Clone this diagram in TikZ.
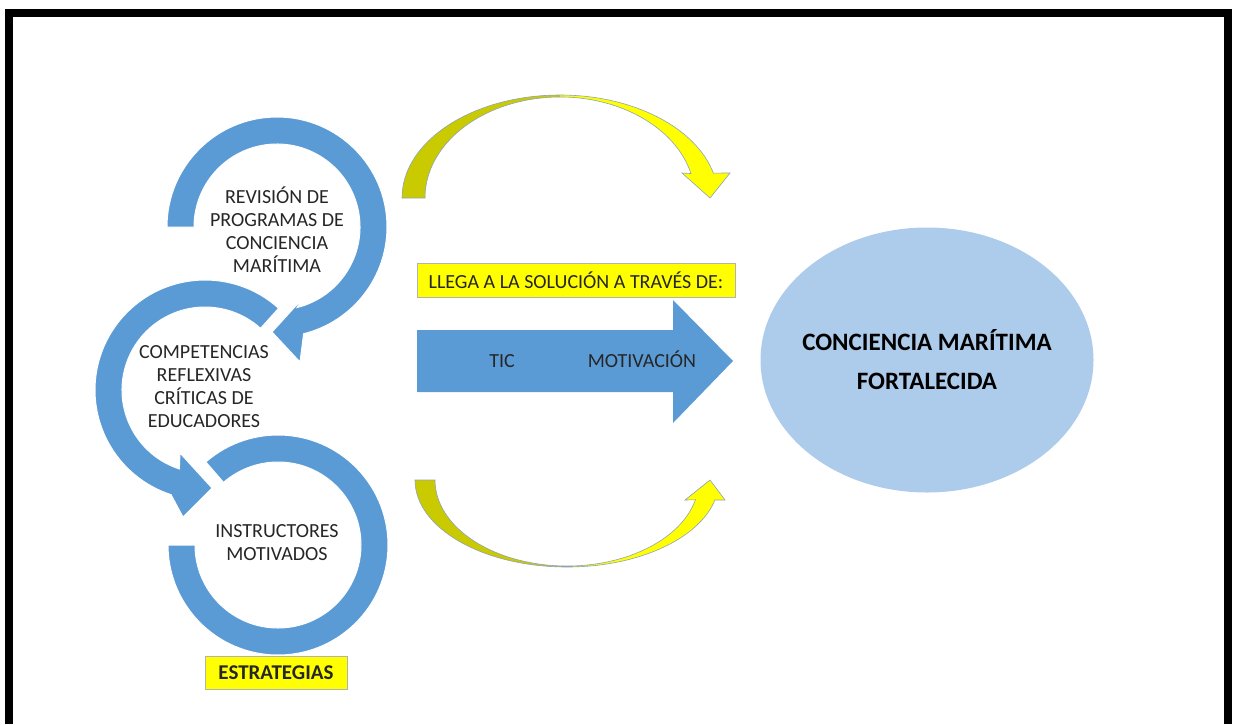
\documentclass[tikz,border=0pt]{standalone}
\usepackage{fontspec}
\setmainfont{Carlito}
\usetikzlibrary{calc,positioning,shapes.geometric}
\definecolor{ringblue}{HTML}{5B9BD5}
\definecolor{ovalblue}{HTML}{ADCBEA}
\definecolor{darkyellow}{HTML}{CACA00}
\definecolor{lightyellow}{HTML}{FFFF00}
\definecolor{arcedge}{HTML}{8FA3B8}
\tikzset{
    ring/.style={fill=ringblue, draw=white, line width=1pt},
    ring text/.style={align=center, text=black!85, font=\fontsize{20}{23}\selectfont, inner sep=0pt},
    flow text/.style={anchor=base, text=black!85, font=\fontsize{20}{23}\selectfont},
    label box/.style={rectangle, draw=gray!60, fill=lightyellow, thin, inner sep=0pt, text=black!85},
    goal/.style={ellipse, fill=ovalblue, minimum width=333pt, minimum height=265pt, inner sep=0pt},
    goal text/.style={align=center, font=\bfseries\fontsize{25}{39}\selectfont},
    arc left/.style={fill=darkyellow},
    arc right/.style={fill=lightyellow},
    arc outline/.style={draw=arcedge, line width=0.6pt},
    frame/.style={draw=black, line width=8pt}
}

\begin{document}
\begin{tikzpicture}[x=1pt, y=1pt]
	\useasboundingbox (0,0) rectangle (1233,-724);
	\draw[frame] (9,-724) -- (9,-13) -- (1228,-13) -- (1228,-724);

	\coordinate (c1) at (277,-227);
	\coordinate (c2) at (205,-390);
	\coordinate (c3) at (278,-545);

	\fill[ring] ($(c1)+(180:110)$) arc[start angle=180, end angle=-76, radius=110]
		-- (300,-362) -- (272,-332) -- (303,-298)
		-- ($(c1)+(-76:83)$) arc[start angle=-76, end angle=180, radius=83] -- cycle;
	\fill[ring] ($(c2)+(48:110)$) arc[start angle=48, end angle=252, radius=110]
		-- (183,-517) -- (212,-488) -- (180,-453)
		-- ($(c2)+(252:83)$) arc[start angle=252, end angle=48, radius=83] -- cycle;
	\fill[ring] ($(c3)+(131:110)$) arc[start angle=131, end angle=-180, radius=110]
		-- ($(c3)+(180:83)$) arc[start angle=-180, end angle=131, radius=83] -- cycle;

	\node[ring text] (review) at (277,-230) {REVISIÓN DE\\PROGRAMAS DE\\CONCIENCIA\\MARÍTIMA};
	\node[ring text] (skills) at (204,-387) {COMPETENCIAS\\REFLEXIVAS\\CRÍTICAS DE\\EDUCADORES};
	\node[ring text] (teachers) at (277,-543) {INSTRUCTORES\\MOTIVADOS};
	\node[label box, minimum width=142pt, minimum height=33pt, font=\bfseries\fontsize{21}{23}\selectfont] (strategies) at (276,-673) {ESTRATEGIAS};

	\coordinate (top arc) at (560,-198);
	\fill[arc left] ($(top arc)+(180:158 and 103)$) arc[start angle=180, end angle=90, x radius=158, y radius=103]
		-- ($(top arc)+(90:135 and 101)$) arc[start angle=90, end angle=180, x radius=135, y radius=101] -- cycle;
	\fill[arc right] ($(top arc)+(90:158 and 103)$) arc[start angle=90, end angle=14, x radius=158, y radius=103]
		-- (730,-173) -- (710,-198) -- (682,-173)
		-- ($(top arc)+(14:135 and 101)$) arc[start angle=14, end angle=90, x radius=135, y radius=101] -- cycle;
	\draw[arc outline] ($(top arc)+(180:158 and 103)$) arc[start angle=180, end angle=14, x radius=158, y radius=103]
		-- (730,-173) -- (710,-198) -- (682,-173)
		-- ($(top arc)+(14:135 and 101)$) arc[start angle=14, end angle=180, x radius=135, y radius=101] -- cycle;

	\coordinate (low arc) at (567,-480);
	\fill[arc left] ($(low arc)+(180:152 and 87)$) arc[start angle=180, end angle=270, x radius=152, y radius=87]
		-- ($(low arc)+(270:132 and 86)$) arc[start angle=270, end angle=180, x radius=132, y radius=86] -- cycle;
	\fill[arc right] ($(low arc)+(270:152 and 87)$) arc[start angle=270, end angle=346.7, x radius=152, y radius=87]
		-- (725,-500) -- (710,-480) -- (685,-500)
		-- ($(low arc)+(346.7:132 and 86)$) arc[start angle=346.7, end angle=270, x radius=132, y radius=86] -- cycle;
	\draw[arc outline] ($(low arc)+(180:152 and 87)$) arc[start angle=180, end angle=346.7, x radius=152, y radius=87]
		-- (725,-500) -- (710,-480) -- (685,-500)
		-- ($(low arc)+(346.7:132 and 86)$) arc[start angle=346.7, end angle=180, x radius=132, y radius=86] -- cycle;

	\node[label box, minimum width=318pt, minimum height=34pt, font=\fontsize{20}{23}\selectfont] (via) at (576,-280) {LLEGA A LA SOLUCIÓN A TRAVÉS DE:};
	\fill[ringblue] (417,-330) -- (673,-330) -- (673,-300) -- (733,-361) -- (673,-423) -- (673,-392) -- (417,-392) -- cycle;
	\node[flow text] (tic) at (502,-367) {TIC};
	\node[flow text] (motivation) at (642,-367) {MOTIVACIÓN};

	\node[goal] (awareness) at (927,-360) {};
	\node[goal text] (awareness label) at (awareness.center) {CONCIENCIA MARÍTIMA\\FORTALECIDA};
\end{tikzpicture}
\end{document}
